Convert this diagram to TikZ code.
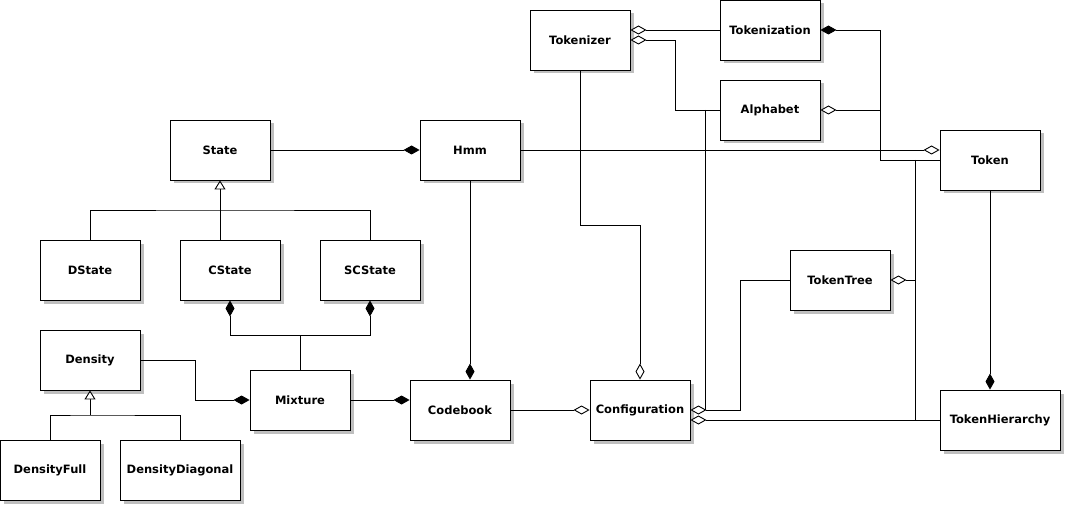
\documentclass[tikz,border=0pt]{standalone}
\usepackage{fontspec}
\setmainfont{DejaVu Sans}
\usetikzlibrary{arrows.meta,shadows,calc}
\begin{document}
\begin{tikzpicture}[x=1pt,y=-1pt,
  cls/.style={draw=black,fill=white,line width=0.9pt,minimum width=100pt,minimum height=60pt,inner sep=0pt,
    font=\fontsize{11.5}{13}\selectfont\bfseries,
    drop shadow={shadow xshift=3.5pt,shadow yshift=-3.5pt,fill=black!25,opacity=1}},
  wide/.style={minimum width=120pt},
  conn/.style={line width=0.9pt},
  comp/.style={conn,-{Diamond[length=16pt,width=9pt,fill=black]}},
  compr/.style={conn,{Diamond[length=16pt,width=9pt,fill=black]}-},
  aggr/.style={conn,-{Diamond[length=16pt,width=9pt,fill=white]}},
  aggrr/.style={conn,{Diamond[length=16pt,width=9pt,fill=white]}-},
  inhr/.style={conn,{Triangle[length=9pt,width=11pt,fill=white]}-}]
\useasboundingbox (0,0) rectangle (1065,505);
% classes
\node[cls] (State) at (220,150) {State};
\node[cls] (Hmm) at (470,150) {Hmm};
\node[cls] (DState) at (90,270) {DState};
\node[cls] (CState) at (230,270) {CState};
\node[cls] (SCState) at (370,270) {SCState};
\node[cls] (Density) at (90,360) {Density};
\node[cls] (Mixture) at (300,400) {Mixture};
\node[cls] (Codebook) at (460,410) {Codebook};
\node[cls] (DensityFull) at (50,470) {DensityFull};
\node[cls,wide] (DensityDiagonal) at (180,470) {DensityDiagonal};
\node[cls] (Configuration) at (640,410) {Configuration};
\node[cls] (Tokenizer) at (580,40) {Tokenizer};
\node[cls] (Tokenization) at (770,30) {Tokenization};
\node[cls] (Alphabet) at (770,110) {Alphabet};
\node[cls] (Token) at (990,160) {Token};
\node[cls] (TokenTree) at (840,280) {TokenTree};
\node[cls,wide] (TokenHierarchy) at (1000,420) {TokenHierarchy};
% junction coordinates
\coordinate (g1) at (220,210);
\coordinate (mixj) at (300,335);
\coordinate (dmx) at (195,400);
\coordinate (g2) at (90,415);
\coordinate (ta) at (675,110);
\coordinate (tk) at (880,160);
\coordinate (tc) at (580,225);
\coordinate (ct) at (740,280);
\coordinate (av) at (705,110);
\coordinate (tv) at (915,160);
% State hierarchy
\draw[comp] (State.east) -- (Hmm.west);
\draw[inhr] (State.south) -- (State.south |- CState.north);
\draw[conn] (DState.north) |- (g1) -| (SCState.north);
% Mixture
\draw[compr] (CState.south) |- (mixj);
\draw[compr] (SCState.south) |- (mixj);
\draw[conn] (mixj) -- (Mixture.north);
\draw[comp] (Density.east) -| (dmx) -- (Mixture.west);
\draw[comp] (Mixture.east) -- (Mixture.east -| Codebook.west);
\draw[comp] (Hmm.south) -- (Hmm.south |- Codebook.north);
\draw[aggr] (Codebook.east) -- (Configuration.west);
% Density hierarchy
\draw[inhr] (Density.south) -- (g2);
\draw[conn] (DensityFull.north) |- (g2) -| (DensityDiagonal.north);
% Tokenizer
\draw[aggrr] (Tokenizer.east |- Tokenization.west) -- (Tokenization.west);
\draw[aggrr] (Tokenizer.east) -| (ta) -- (Alphabet.west);
\draw[compr] (Tokenization.east) -| (tk) -- (Token.west);
\draw[aggrr] (Alphabet.east) -- (Alphabet.east -| tk);
\draw[aggr] (Hmm.east) -- (Hmm.east -| Token.west);
\draw[comp] (Token.south) -- (Token.south |- TokenHierarchy.north);
\draw[aggr] (Tokenizer.south) -- (tc) -| (Configuration.north);
% Configuration
\draw[aggrr] (Configuration.east) -| (ct) -- (TokenTree.west);
\draw[conn] (av) -- (av |- Configuration.east);
\draw[aggrr] (Configuration.east |- TokenHierarchy.west) -- (TokenHierarchy.west);
\draw[conn] (tv) -- (tv |- TokenHierarchy.west);
\draw[aggrr] (TokenTree.east) -- (TokenTree.east -| tv);
\end{tikzpicture}
\end{document}
